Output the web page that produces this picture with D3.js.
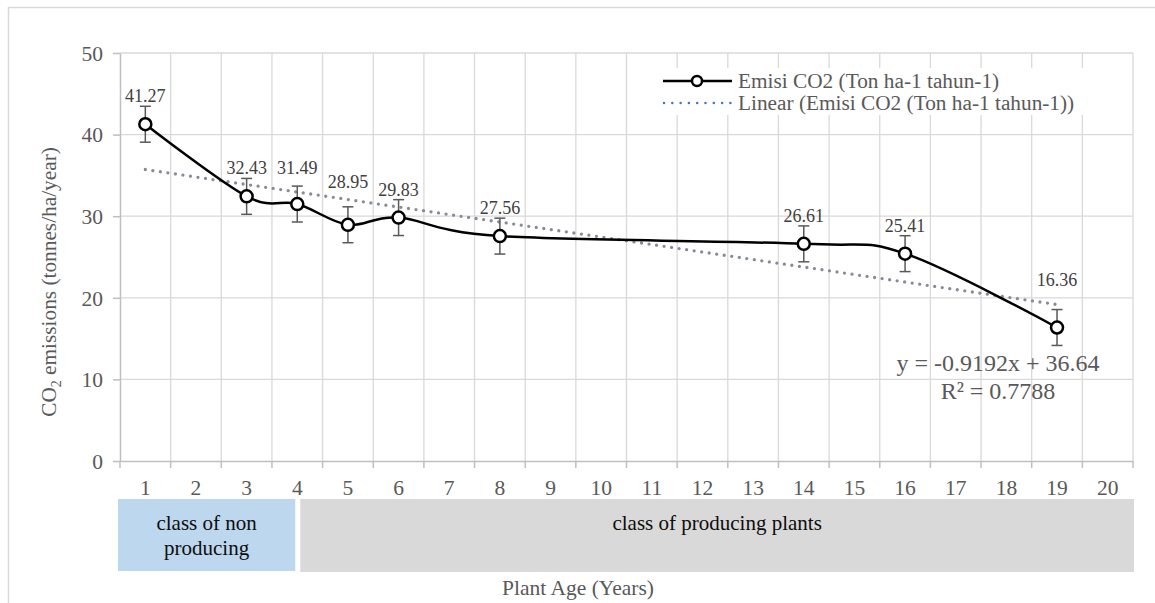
<!DOCTYPE html>
<html><head><meta charset="utf-8">
<script src="https://cdn.jsdelivr.net/npm/d3@7"></script>
<style>
html,body{margin:0;padding:0;background:#fff;}
svg{display:block;font-family:"Liberation Serif","Times New Roman",serif;}
</style></head>
<body>
<svg id="chart" width="1155" height="603"></svg>
<script>
// ---- data ----
const categories = ["1","2","3","4","5","6","7","8","9","10","11","12","13","14","15","16","17","18","19","20"];
const ages = [1, 3, 4, 5, 6, 8, 14, 16, 19];
const emissions = [41.27, 32.43, 31.49, 28.95, 29.83, 27.56, 26.61, 25.41, 16.36];
const errors = [2.2, 2.2, 2.2, 2.2, 2.2, 2.2, 2.2, 2.2, 2.2];
const yTicks = [0, 10, 20, 30, 40, 50];
const trendCoef = [-0.9192, 36.64]; // slope, intercept
const trendText = ["y = -0.9192x + 36.64", "R\u00b2 = 0.7788"];
const seriesNames = ["Emisi CO2 (Ton ha-1 tahun-1)", "Linear (Emisi CO2 (Ton ha-1 tahun-1))"];
const classNames = [["class of non", "producing"], ["class of producing plants"]];
const classRanges = [[1, 4], [4, 20]];
// label nudges (layout only, px upward)
const labelNudge = {4: 8, 5: 15, 19: 20};

const svg = d3.select("#chart");
const W = 1155, H = 603;
const m = {left: 120, right: 1133, top: 53, bottom: 461};

// outer border
svg.append("path").attr("d", `M8.5,${H} V7.5 H${W}`).attr("fill","none").attr("stroke","#d9d9d9").attr("stroke-width",1.5);

const x = d3.scaleBand().domain(categories).range([m.left, m.right]).padding(0);
const bw = x.bandwidth();
const xc = a => x(String(a)) + bw / 2;
const y = d3.scaleLinear().domain([0, 50]).range([m.bottom, m.top]);

// gridlines
const g = svg.append("g");
yTicks.forEach(t => {
  if (t === 0) return;
  g.append("line").attr("x1", m.left).attr("x2", m.right).attr("y1", y(t)).attr("y2", y(t))
    .attr("stroke", "#d9d9d9").attr("stroke-width", 1.3);
});
categories.forEach((c, i) => {
  const xx = x(c) + bw;
  g.append("line").attr("x1", xx).attr("x2", xx).attr("y1", m.top).attr("y2", m.bottom)
    .attr("stroke", "#d9d9d9").attr("stroke-width", 1.3);
});

// axes
const yAxis = d3.axisLeft(y).tickValues(yTicks).tickSize(7).tickSizeOuter(0).tickPadding(10);
const ya = svg.append("g").attr("transform", `translate(${m.left},0)`).call(yAxis);
ya.select(".domain").attr("stroke", "#bfbfbf").attr("stroke-width", 1.5);
ya.selectAll(".tick line").attr("stroke", "#bfbfbf").attr("stroke-width", 1.5);
ya.selectAll(".tick text").attr("fill", "#595959").style("font-size", "21.5px")
  .style("font-family", "Liberation Serif").attr("dy", "0.34em");

const xAxis = d3.axisBottom(x).tickSize(0).tickPadding(19);
const xa = svg.append("g").attr("transform", `translate(0,${m.bottom})`).call(xAxis);
xa.select(".domain").attr("stroke", "#bfbfbf").attr("stroke-width", 1.5);
xa.selectAll(".tick text").attr("fill", "#595959").style("font-size", "21.5px")
  .style("font-family", "Liberation Serif");
// boundary tick marks
[m.left].concat(categories.map(c => x(c) + bw)).forEach(xx => {
  xa.append("line").attr("x1", xx).attr("x2", xx).attr("y1", 0).attr("y2", 7)
    .attr("stroke", "#bfbfbf").attr("stroke-width", 1.5);
});

// trendline
const tx0 = ages[0], tx1 = ages[ages.length - 1];
svg.append("line")
  .attr("x1", xc(tx0)).attr("y1", y(trendCoef[0] * tx0 + trendCoef[1]))
  .attr("x2", xc(tx1)).attr("y2", y(trendCoef[0] * tx1 + trendCoef[1]))
  .attr("stroke", "#858c96").attr("stroke-width", 3.3).attr("stroke-linecap", "round")
  .attr("stroke-dasharray", "0 7.6");

const pts = ages.map((a, i) => ({a, v: emissions[i], e: errors[i]}));

// error bars
const eb = svg.append("g").attr("stroke", "#595959").attr("stroke-width", 1.5);
pts.forEach(p => {
  const cx = xc(p.a);
  eb.append("line").attr("x1", cx).attr("x2", cx).attr("y1", y(p.v + p.e)).attr("y2", y(p.v - p.e));
  eb.append("line").attr("x1", cx - 5.5).attr("x2", cx + 5.5).attr("y1", y(p.v + p.e)).attr("y2", y(p.v + p.e));
  eb.append("line").attr("x1", cx - 5.5).attr("x2", cx + 5.5).attr("y1", y(p.v - p.e)).attr("y2", y(p.v - p.e));
});

// line
const line = d3.line().x(p => xc(p.a)).y(p => y(p.v)).curve(d3.curveCatmullRom.alpha(0));
svg.append("path").datum(pts).attr("d", line).attr("fill", "none")
  .attr("stroke", "#000").attr("stroke-width", 2.5);

// markers
svg.append("g").selectAll("circle").data(pts).join("circle")
  .attr("cx", p => xc(p.a)).attr("cy", p => y(p.v)).attr("r", 6)
  .attr("fill", "#fff").attr("stroke", "#000").attr("stroke-width", 2.5);

// data labels
svg.append("g").selectAll("text").data(pts).join("text")
  .attr("x", p => xc(p.a))
  .attr("y", p => y(p.v + p.e) - 4 - (labelNudge[p.a] || 0))
  .attr("text-anchor", "middle").attr("fill", "#404040").style("font-size", "18px")
  .text(p => p.v.toFixed(2));

// legend
const lg = svg.append("g");
lg.append("rect").attr("x", 652).attr("y", 68).attr("width", 440).attr("height", 47).attr("fill", "#fff");
lg.append("line").attr("x1", 663).attr("x2", 732).attr("y1", 81).attr("y2", 81).attr("stroke", "#000").attr("stroke-width", 2.5);
lg.append("circle").attr("cx", 697).attr("cy", 81).attr("r", 5).attr("fill", "#fff").attr("stroke", "#000").attr("stroke-width", 2.5);
lg.append("line").attr("x1", 664).attr("x2", 731).attr("y1", 103).attr("y2", 103).attr("stroke", "#4472c4")
  .attr("stroke-width", 2.5).attr("stroke-linecap", "round").attr("stroke-dasharray", "0 8.3");
lg.append("text").attr("x", 738).attr("y", 88).attr("fill", "#595959").style("font-size", "21.3px").text(seriesNames[0]);
lg.append("text").attr("x", 738).attr("y", 110).attr("fill", "#595959").style("font-size", "21.3px").text(seriesNames[1]);

// trend equation
const eq = svg.append("g");
eq.append("text").attr("x", 998).attr("y", 371).attr("text-anchor", "middle").attr("fill", "#595959").style("font-size", "24px").text(trendText[0]);
eq.append("text").attr("x", 998).attr("y", 399).attr("text-anchor", "middle").attr("fill", "#595959").style("font-size", "24px").text(trendText[1]);

// y title
const yt = svg.append("text").attr("transform", `translate(56,282) rotate(-90)`)
  .attr("text-anchor", "middle").attr("fill", "#595959").style("font-size", "21.3px");
yt.append("tspan").text("CO");
yt.append("tspan").attr("dy", 5).style("font-size", "14px").text("2");
yt.append("tspan").attr("dy", -5).text(" emissions (tonnes/ha/year)");

// class boxes
const boxTop = 499, boxBot = 571;
const bx0 = m.left - 2, bmid = xc(classRanges[0][1]), bx1 = m.right + 1;
svg.append("rect").attr("x", bx0).attr("y", boxTop).attr("width", bmid - 2 - bx0).attr("height", boxBot - boxTop).attr("fill", "#bdd7ee");
svg.append("rect").attr("x", bmid + 3).attr("y", boxTop).attr("width", bx1 - bmid - 3).attr("height", boxBot - boxTop + 1).attr("fill", "#d9d9d9");
const c1 = (bx0 + bmid - 2) / 2;
classNames[0].forEach((t, i) => {
  svg.append("text").attr("x", c1).attr("y", 530 + i * 25).attr("text-anchor", "middle").attr("fill", "#0d0d0d").style("font-size", "21px").text(t);
});
svg.append("text").attr("x", (bmid + 3 + bx1) / 2).attr("y", 530).attr("text-anchor", "middle").attr("fill", "#0d0d0d").style("font-size", "21px").text(classNames[1][0]);

// x title
svg.append("text").attr("x", 578).attr("y", 595).attr("text-anchor", "middle").attr("fill", "#595959").style("font-size", "21.5px").text("Plant Age (Years)");
</script>
</body></html>
